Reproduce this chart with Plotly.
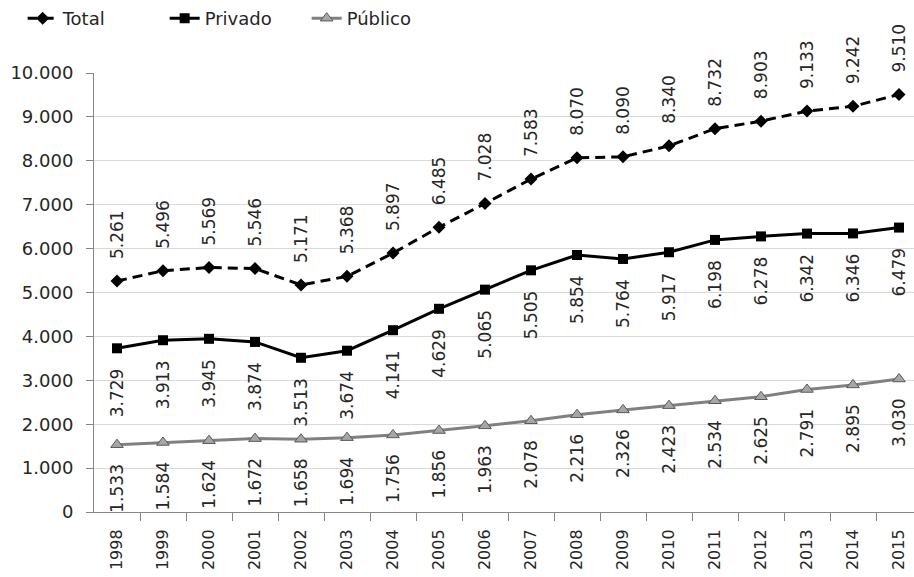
import plotly.graph_objects as go

years = ["1998", "1999", "2000", "2001", "2002", "2003", "2004", "2005", "2006",
         "2007", "2008", "2009", "2010", "2011", "2012", "2013", "2014", "2015"]
total = [5261, 5496, 5569, 5546, 5171, 5368, 5897, 6485, 7028,
         7583, 8070, 8090, 8340, 8732, 8903, 9133, 9242, 9510]
privado = [3729, 3913, 3945, 3874, 3513, 3674, 4141, 4629, 5065,
           5505, 5854, 5764, 5917, 6198, 6278, 6342, 6346, 6479]
publico = [1533, 1584, 1624, 1672, 1658, 1694, 1756, 1856, 1963,
           2078, 2216, 2326, 2423, 2534, 2625, 2791, 2895, 3030]
y_ticks = [0, 1000, 2000, 3000, 4000, 5000, 6000, 7000, 8000, 9000, 10000]

FONT = "DejaVu Sans"
TXT = "#262626"
xs = list(range(len(years)))

def fmt(v):
    return f"{v:,}".replace(",", ".")

fig = go.Figure()
fig.add_trace(go.Scatter(
    x=xs, y=total, name="Total", mode="lines+markers",
    line=dict(color="black", width=3, dash="10px,6px"),
    marker=dict(symbol="diamond", size=10, color="black"),
))
fig.add_trace(go.Scatter(
    x=xs, y=privado, name="Privado", mode="lines+markers",
    line=dict(color="black", width=3),
    marker=dict(symbol="square", size=10, color="black"),
))
fig.add_trace(go.Scatter(
    x=xs, y=publico, name="Público", mode="lines+markers",
    line=dict(color="#808080", width=3),
    marker=dict(symbol="triangle-up", size=11, color="#a6a6a6",
                line=dict(color="#595959", width=1)),
))

annotations = []
for series, shift in ((total, 46), (privado, -45), (publico, -44)):
    for x, v in zip(xs, series):
        annotations.append(dict(
            x=x, y=v, xref="x", yref="y", text=fmt(v), showarrow=False,
            textangle=-90, yshift=shift, xanchor="center", yanchor="middle",
            font=dict(family=FONT, size=17, color=TXT),
        ))

fig.update_layout(
    width=914, height=577,
    margin=dict(l=94, r=0, t=73, b=65),
    paper_bgcolor="white", plot_bgcolor="white",
    separators=",.",
    font=dict(family=FONT, color=TXT),
    showlegend=True,
    legend=dict(orientation="h", x=-0.087, xanchor="left", y=1.125, yanchor="middle",
                font=dict(family=FONT, size=18, color=TXT),
                bgcolor="rgba(0,0,0,0)", entrywidth=97, entrywidthmode="pixels",
                tracegroupgap=0),
    annotations=annotations,
)
fig.update_xaxes(
    range=[-0.5, -0.5 + 820 / 46],
    tickvals=xs, ticktext=years, tickangle=-90, ticks="",
    ticklabelstandoff=10,
    tickfont=dict(family=FONT, size=16, color=TXT),
    showgrid=False, zeroline=False,
    showline=True, linecolor="#868686", linewidth=1,
    minor=dict(tickvals=[x + 0.5 for x in xs], ticks="outside", ticklen=8,
               tickcolor="#868686", showgrid=False),
)
fig.update_yaxes(
    range=[0, 10000], tickvals=y_ticks, tickformat=",d",
    ticklabelstandoff=9,
    tickfont=dict(family=FONT, size=18, color=TXT),
    showgrid=True, gridcolor="#d9d9d9", gridwidth=1, zeroline=False,
    showline=True, linecolor="#868686", linewidth=1,
    ticks="outside", ticklen=7, tickcolor="#868686",
)

fig.write_html("out.html")
